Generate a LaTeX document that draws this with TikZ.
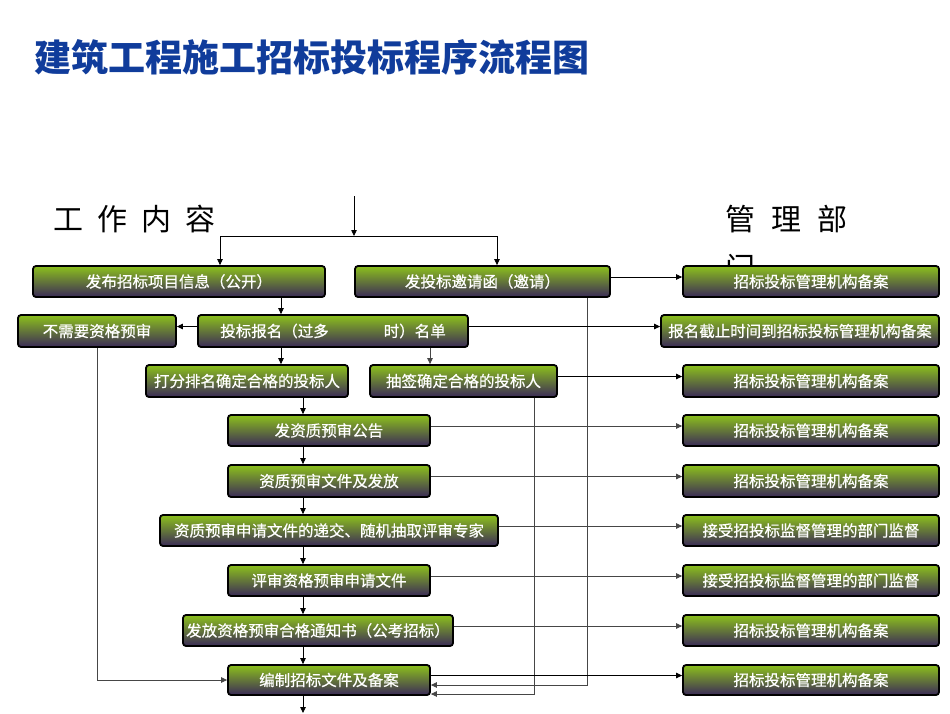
\documentclass[tikz,border=0pt]{standalone}
\usepackage{fontspec}
\setmainfont{Noto Sans CJK SC}
\newfontfamily\boxfont[FakeBold=0.6]{Noto Sans CJK SC}
\usetikzlibrary{arrows.meta}
\definecolor{titleblue}{RGB}{16,60,155}
\definecolor{gtop}{RGB}{140,192,28}
\definecolor{gmid}{RGB}{98,122,48}
\definecolor{gbot}{RGB}{58,42,88}
\definecolor{linegray}{RGB}{70,70,70}
\tikzset{
  box/.style={draw=black, line width=1.8pt, rounded corners=3pt,
    top color=gtop, middle color=gmid, bottom color=gbot,
    text=white, font=\boxfont\fontsize{15.5}{18}\selectfont,
    inner xsep=0pt, inner ysep=0pt, minimum height=31pt, anchor=center},
  rbox/.style={box, minimum width=256pt},
  conn/.style={draw=black, line width=0.8pt},
  arr/.style={conn, -{Triangle[length=6pt,width=5.5pt]}},
  garr/.style={draw=linegray, line width=0.8pt, -{Triangle[length=6pt,width=5.5pt]}},
  head/.style={font=\fontsize{30}{49}\selectfont, anchor=north west, inner sep=0pt, align=left}
}
\begin{document}
\begin{tikzpicture}[x=1pt,y=-1pt]
\useasboundingbox[fill=white] (0,0) rectangle (950,713);

% title
\node[anchor=west, inner sep=0pt, text=titleblue, font=\fontsize{37}{40}\selectfont\bfseries] (title) at (34,57) {建筑工程施工招标投标程序流程图};

% headers
\node[head] (hl) at (53,205) {工\hspace{14pt}作\hspace{14pt}内\hspace{14pt}容};
\node[head] (hr) at (725,205) {管\hspace{16pt}理\hspace{16pt}部\\门};

% left column boxes
\node[box, minimum width=292pt] (A) at (179,281.5) {发布招标项目信息（公开）};
\node[box, minimum width=255pt] (B) at (482.5,281.5) {发投标邀请函（邀请）};
\node[box, minimum width=158pt, minimum height=32pt] (D) at (97,331) {不需要资格预审};
\node[box, minimum width=270pt, minimum height=32pt] (C) at (333,331) {投标报名（过多\hspace*{55pt}时）名单};
\node[box, minimum width=202pt, minimum height=32pt] (E) at (247,381) {打分排名确定合格的投标人};
\node[box, minimum width=187pt, minimum height=32pt] (F) at (463.5,381) {抽签确定合格的投标人};
\node[box, minimum width=202pt] (G) at (329,430.5) {发资质预审公告};
\node[box, minimum width=202pt, minimum height=32pt] (H) at (329,481) {资质预审文件及发放};
\node[box, minimum width=338pt] (I) at (329,530.5) {资质预审申请文件的递交、随机抽取评审专家};
\node[box, minimum width=202pt] (J) at (329,580.5) {评审资格预审申请文件};
\node[box, minimum width=270pt] (K) at (318,630.5) {发放资格预审合格通知书（公考招标）};
\node[box, minimum width=202pt, minimum height=30pt] (L) at (329,680) {编制招标文件及备案};

% right column boxes
\node[rbox] (R1) at (811,281.5) {招标投标管理机构备案};
\node[box, minimum width=278pt, minimum height=32pt] (R2) at (800,331) {报名截止时间到招标投标管理机构备案};
\node[rbox, minimum height=32pt] (R3) at (811,381) {招标投标管理机构备案};
\node[rbox] (R4) at (811,430.5) {招标投标管理机构备案};
\node[rbox, minimum height=32pt] (R5) at (811,481) {招标投标管理机构备案};
\node[rbox] (R6) at (811,530.5) {接受招投标监督管理的部门监督};
\node[rbox] (R7) at (811,580.5) {接受招投标监督管理的部门监督};
\node[rbox] (R8) at (811,630.5) {招标投标管理机构备案};
\node[rbox, minimum height=30pt] (R9) at (811,680) {招标投标管理机构备案};

% helper coordinates
\coordinate (start) at (354,196);
\coordinate (split) at (354,236);
\coordinate (ja) at (220,236);
\coordinate (jb) at (497,236);
\coordinate (x281) at (281,0);
\coordinate (x430) at (430,0);
\coordinate (x303) at (303,0);
\coordinate (out) at (303,713);
\coordinate (bB) at (587,685);
\coordinate (bF) at (534,694);

% top connectors
\draw[arr] (start) -- (split);
\draw[conn] (ja) -- (jb);
\draw[arr] (ja) -- (ja |- A.north);
\draw[arr] (jb) -- (jb |- B.north);

% main flow
\draw[arr] (x281 |- A.south) -- (x281 |- C.north);
\draw[arr] ([yshift=4.5pt]C.west) -- ([yshift=4.5pt]D.east);
\draw[arr] (x281 |- C.south) -- (x281 |- E.north);
\draw[garr] (x430 |- C.south) -- (x430 |- F.north);
\draw[arr] (x303 |- E.south) -- (x303 |- G.north);
\draw[arr] (x303 |- G.south) -- (x303 |- H.north);
\draw[arr] (x303 |- H.south) -- (x303 |- I.north);
\draw[arr] (x303 |- I.south) -- (x303 |- J.north);
\draw[arr] (x303 |- J.south) -- (x303 |- K.north);
\draw[arr] (x303 |- K.south) -- (x303 |- L.north);
\draw[arr] (x303 |- L.south) -- (out);

% bypass lines into L
\draw[garr] (D.south) |- (L.west);
\draw[garr] (bB |- B.south) -- (bB) -- (bB -| L.east);
\draw[garr] (bF |- F.south) -- (bF) -- (bF -| L.east);

% connectors to right column
\draw[arr] ([yshift=4.5pt]B.east) -- ([yshift=4.5pt]R1.west);
\draw[arr] ([yshift=4.5pt]C.east) -- ([yshift=4.5pt]R2.west);
\draw[arr] ([yshift=4.5pt]F.east) -- ([yshift=4.5pt]R3.west);
\draw[garr] ([yshift=4.5pt]G.east) -- ([yshift=4.5pt]R4.west);
\draw[garr] ([yshift=4.5pt]H.east) -- ([yshift=4.5pt]R5.west);
\draw[garr] ([yshift=4.5pt]I.east) -- ([yshift=4.5pt]R6.west);
\draw[garr] ([yshift=4.5pt]J.east) -- ([yshift=4.5pt]R7.west);
\draw[garr] ([yshift=4.5pt]K.east) -- ([yshift=4.5pt]R8.west);
\draw[arr] ([yshift=4.5pt]L.east) -- ([yshift=4.5pt]R9.west);
\end{tikzpicture}
\end{document}
